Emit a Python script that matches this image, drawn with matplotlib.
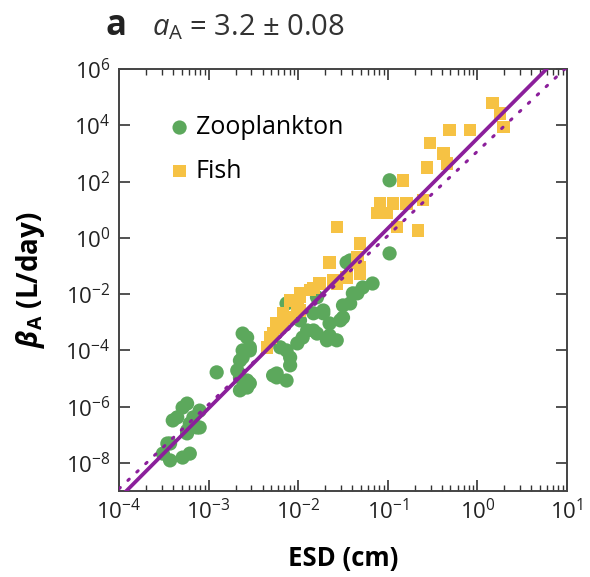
import numpy as np
import matplotlib
matplotlib.use('Agg')
from matplotlib import pyplot as plt
from matplotlib.ticker import LogLocator, NullFormatter

plt.rcParams['font.family'] = ['Open Sans', 'DejaVu Sans']
plt.rcParams['mathtext.fontset'] = 'custom'
plt.rcParams['mathtext.rm'] = 'Open Sans'
plt.rcParams['mathtext.it'] = 'Open Sans:italic'
plt.rcParams['mathtext.bf'] = 'Open Sans:bold'
plt.rcParams['mathtext.bfit'] = 'Open Sans:italic:bold'

# log10 values
zoo_logx = [-3.51, -3.46, -3.43, -3.29, -3.21, -3.40, -3.29, -3.17, -3.24, -3.10,
            -3.35, -3.21, -2.91, -2.65, -2.62, -2.54, -2.57, -2.62, -2.28, -2.13,
            -2.62, -2.57, -2.54, -2.24, -2.09, -2.13, -2.01, -1.90, -1.83, -1.79,
            -1.79, -1.72, -1.68, -1.65, -1.53, -1.50, -1.46, -1.42, -1.39, -1.28,
            -1.17, -1.57, -0.98, -0.98,
            -2.54, -2.65, -2.68, -2.57, -2.65, -3.24, -3.10, -3.13, -3.24, -3.43,
            -1.42, -1.34, -1.50, -1.72, -1.65, -1.83, -1.95, -2.13, -2.20, -2.09,
            -2.24, -1.98]
zoo_logy = [-7.67, -7.31, -7.91, -7.81, -7.67, -6.49, -6.03, -6.38, -6.85, -6.74,
            -6.38, -6.60, -4.78, -4.96, -4.25, -3.89, -5.32, -3.40, -4.89, -5.07,
            -4.00, -3.54, -5.17, -4.82, -4.25, -2.33, -3.75, -3.29, -2.68, -3.40,
            -2.11, -2.68, -3.64, -3.04, -2.93, -2.83, -0.87, -2.33, -1.97, -1.76,
            -1.62, -3.64, -0.55, 2.05,
            -4.00, -4.36, -4.71, -5.07, -5.42, -5.89, -6.14, -6.74, -6.95, -7.31,
            -0.80, -1.97, -2.40, -2.58, -3.47, -3.29, -3.54, -4.00, -3.89, -4.53,
            -4.96, -2.93]

fish_logx = [-2.35, -2.31, -2.28, -2.24, -2.17, -2.17, -2.01, -1.98, -1.83, -1.61,
             -1.65, -1.57, -1.34, -1.31, -1.31, -1.12, -1.09, -1.01, -0.94, -0.90,
             -0.83, -0.79, -0.66, -0.61, -0.56, -0.53, -0.38, -0.34, -0.31, -0.08,
             0.17, 0.25, 0.29, -1.98, -2.09,
             -1.34, -1.31, -1.87, -2.01, -2.09, -2.20, -1.98, -1.57, -1.46, -1.76]
fish_logy = [-3.89, -3.54, -3.40, -3.04, -2.68, -3.04, -2.33, -1.97, -1.79, -1.51,
             -0.87, 0.38, -0.90, -0.19, -1.26, 0.88, 1.23, 0.88, 1.23, 0.38,
             2.05, 1.23, 0.27, 1.34, 2.51, 3.37, 3.01, 2.65, 3.83, 3.83,
             4.79, 4.43, 3.94, -2.58, -2.22,
             -0.69, -1.05, -1.86, -2.47, -2.83, -3.18, -2.11, -1.62, -1.40, -1.62]

# fitted lines: log10(beta) = slope*log10(ESD) + intercept
fit_slope, fit_icpt = 3.2, 3.54
ref_slope, ref_icpt = 3.0, 3.08

green = '#5ca85c'
yellow = '#f6c244'
purple = '#8b1f9b'

fig = plt.figure(figsize=(5.9, 5.77), dpi=100)
ax = fig.add_axes([0.2017, 0.149, 0.7593, 0.731])

ax.scatter(10**np.array(zoo_logx), 10**np.array(zoo_logy), s=105, marker='o',
           color=green, edgecolors='none', label='Zooplankton', zorder=2)
ax.scatter(10**np.array(fish_logx), 10**np.array(fish_logy), s=80, marker='s',
           color=yellow, edgecolors='none', label='Fish', zorder=2)

xx = np.logspace(-4, 1, 200)
ax.plot(xx, 10**(ref_slope*np.log10(xx) + ref_icpt), color=purple, lw=2.2,
        ls=(0, (0.6, 3.4)), dash_capstyle='round', zorder=3)
ax.plot(xx, 10**(fit_slope*np.log10(xx) + fit_icpt), color=purple, lw=2.7, zorder=4)

ax.set_xscale('log')
ax.set_yscale('log')
ax.set_xlim(1e-4, 1e1)
ax.set_ylim(1e-9, 1e6)

ax.xaxis.set_major_locator(LogLocator(base=10, numticks=10))
ax.xaxis.set_minor_locator(LogLocator(base=10, subs=np.arange(2, 10), numticks=20))
ax.xaxis.set_minor_formatter(NullFormatter())
ax.set_yticks([1e-8, 1e-6, 1e-4, 1e-2, 1e0, 1e2, 1e4, 1e6])
ax.yaxis.set_minor_locator(plt.NullLocator())

ax.tick_params(which='both', direction='in', top=True, right=True, colors='#333333',
               labelcolor='#222222', labelsize=16)
ax.tick_params(which='major', length=8, width=1.2, pad=6)
ax.tick_params(which='minor', length=4.5, width=1.0)
for sp in ax.spines.values():
    sp.set_linewidth(1.4)
    sp.set_color('#444444')

ax.set_xlabel('ESD (cm)', fontsize=18.5, fontweight='bold', labelpad=15)
ax.set_ylabel(r'$\mathbfit{\beta}_\mathbf{A}$ (L/day)', fontsize=20, fontweight='bold',
              labelpad=13)

leg = ax.legend(loc='upper left', bbox_to_anchor=(0.085, 0.915), frameon=False,
                fontsize=18, handletextpad=0.15, labelspacing=0.75, borderaxespad=0,
                handlelength=1.0)

fig.text(0.178, 0.939, 'a', fontsize=25, fontweight='bold', va='baseline', color='#222222')
fig.text(0.257, 0.939, r'$a_\mathrm{A}$ = 3.2 ± 0.08', fontsize=21, va='baseline',
         color='#333333')

fig.savefig('out.png', dpi=100)
